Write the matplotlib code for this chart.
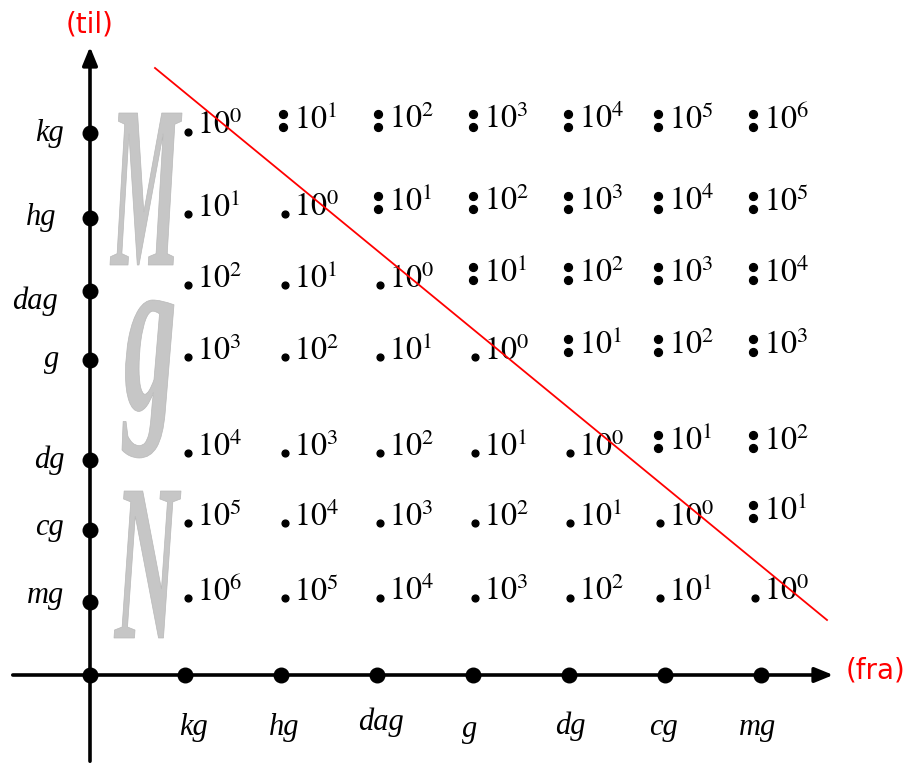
import matplotlib
matplotlib.use("Agg")
import matplotlib.pyplot as plt
from matplotlib.textpath import TextPath
from matplotlib.patches import PathPatch
from matplotlib.font_manager import FontProperties
from matplotlib.transforms import Affine2D

plt.rcParams["mathtext.fontset"] = "stix"

# units (same order on both axes)
units = ["kg", "hg", "dag", "g", "dg", "cg", "mg"]

# exponent of 10 for each (til = row, fra = column)
exponents = [
    [0, 1, 2, 3, 4, 5, 6],
    [1, 0, 1, 2, 3, 4, 5],
    [2, 1, 0, 1, 2, 3, 4],
    [3, 2, 1, 0, 1, 2, 3],
    [4, 3, 2, 1, 0, 1, 2],
    [5, 4, 3, 2, 1, 0, 1],
    [6, 5, 4, 3, 2, 1, 0],
]
# operation: "m" = multiply (dot), "d" = divide (colon)
operations = [
    ["m", "d", "d", "d", "d", "d", "d"],
    ["m", "m", "d", "d", "d", "d", "d"],
    ["m", "m", "m", "d", "d", "d", "d"],
    ["m", "m", "m", "m", "d", "d", "d"],
    ["m", "m", "m", "m", "m", "d", "d"],
    ["m", "m", "m", "m", "m", "m", "d"],
    ["m", "m", "m", "m", "m", "m", "m"],
]

# layout (pixel coordinates)
x_ticks = [185, 281, 377, 473, 569, 665, 761]
y_ticks = [133, 218, 291, 360, 460, 530, 602]
x_label_pos = [(193, 728), (284, 728), (381, 722), (470, 730), (570, 726), (663, 728), (758, 728)]
y_label_pos = [(64, 133), (56, 218), (58, 301), (59, 360), (65, 460), (64, 527), (64, 596)]
col_text_x = [197, 294, 389, 484, 579, 669, 764]
row_text_y = [126, 208, 279, 351, 447, 517, 592]
origin = (90, 675)

fig = plt.figure(figsize=(9.09, 7.64), dpi=100)
ax = fig.add_axes([0, 0, 1, 1])
ax.set_xlim(0, 909)
ax.set_ylim(764, 0)
ax.axis("off")


def glyph(ch, x0, y0, x1, y1, family="Liberation Serif", style="italic"):
    """Draw a big grey letter stretched into a box"""
    tp = TextPath((0, 0), ch, size=100,
                  prop=FontProperties(family=family, style=style, weight="bold"))
    bb = tp.get_extents()
    sx = (x1 - x0) / bb.width
    sy = (y1 - y0) / bb.height
    tr = Affine2D().translate(-bb.x0, -bb.y1).scale(sx, -sy).translate(x0, y0)
    ax.add_patch(PathPatch(tr.transform_path(tp), facecolor="#c6c6c6", edgecolor="#b8b8b8",
                           lw=0.5, zorder=1))


glyph("M", 110, 113, 182, 265)
glyph("g", 122, 300, 174, 458)
glyph("N", 114, 491, 181, 638)

# axes with arrows
ax.annotate("", xy=(origin[0], 44), xytext=(origin[0], 764),
            arrowprops=dict(arrowstyle="-|>,head_length=1.1,head_width=0.45", lw=2.6, color="black"))
ax.annotate("", xy=(836, origin[1]), xytext=(10, origin[1]),
            arrowprops=dict(arrowstyle="-|>,head_length=1.1,head_width=0.45", lw=2.6, color="black"))

ax.scatter([origin[0]] + x_ticks, [origin[1]] * (len(x_ticks) + 1), s=110, color="black", zorder=5)
ax.scatter([origin[0]] * len(y_ticks), y_ticks, s=110, color="black", zorder=5)

ax.text(origin[0], 24, "(til)", color="red", fontsize=20, ha="center", va="center")
ax.text(875, 671, "(fra)", color="red", fontsize=20, ha="center", va="center")

# tick labels
for u, (x, y) in zip(units, y_label_pos):
    ax.text(x, y, u, fontsize=22, family="Liberation Serif", style="italic",
            ha="right", va="center")
for u, (x, y) in zip(units, x_label_pos):
    ax.text(x, y, u, fontsize=22, family="Liberation Serif", style="italic",
            ha="center", va="center")

# diagonal
ax.plot([155, 827], [68, 620], color="red", lw=1.3, zorder=6)

# grid of factors
for i, row in enumerate(exponents):
    for j, e in enumerate(row):
        op = operations[i][j]
        y = row_text_y[i] - (6 if op == "d" else 0)
        x = col_text_x[j]
        ax.text(x, y, r"$10^{%d}$" % e, fontsize=23, ha="left", va="center", zorder=4)
        if op == "m":
            ax.scatter([x - 9], [y + 6], s=24, color="black", zorder=4)
        else:
            ax.scatter([x - 11, x - 11], [y - 6, y + 7], s=32, color="black", zorder=4)

fig.savefig("out.png", dpi=100)
